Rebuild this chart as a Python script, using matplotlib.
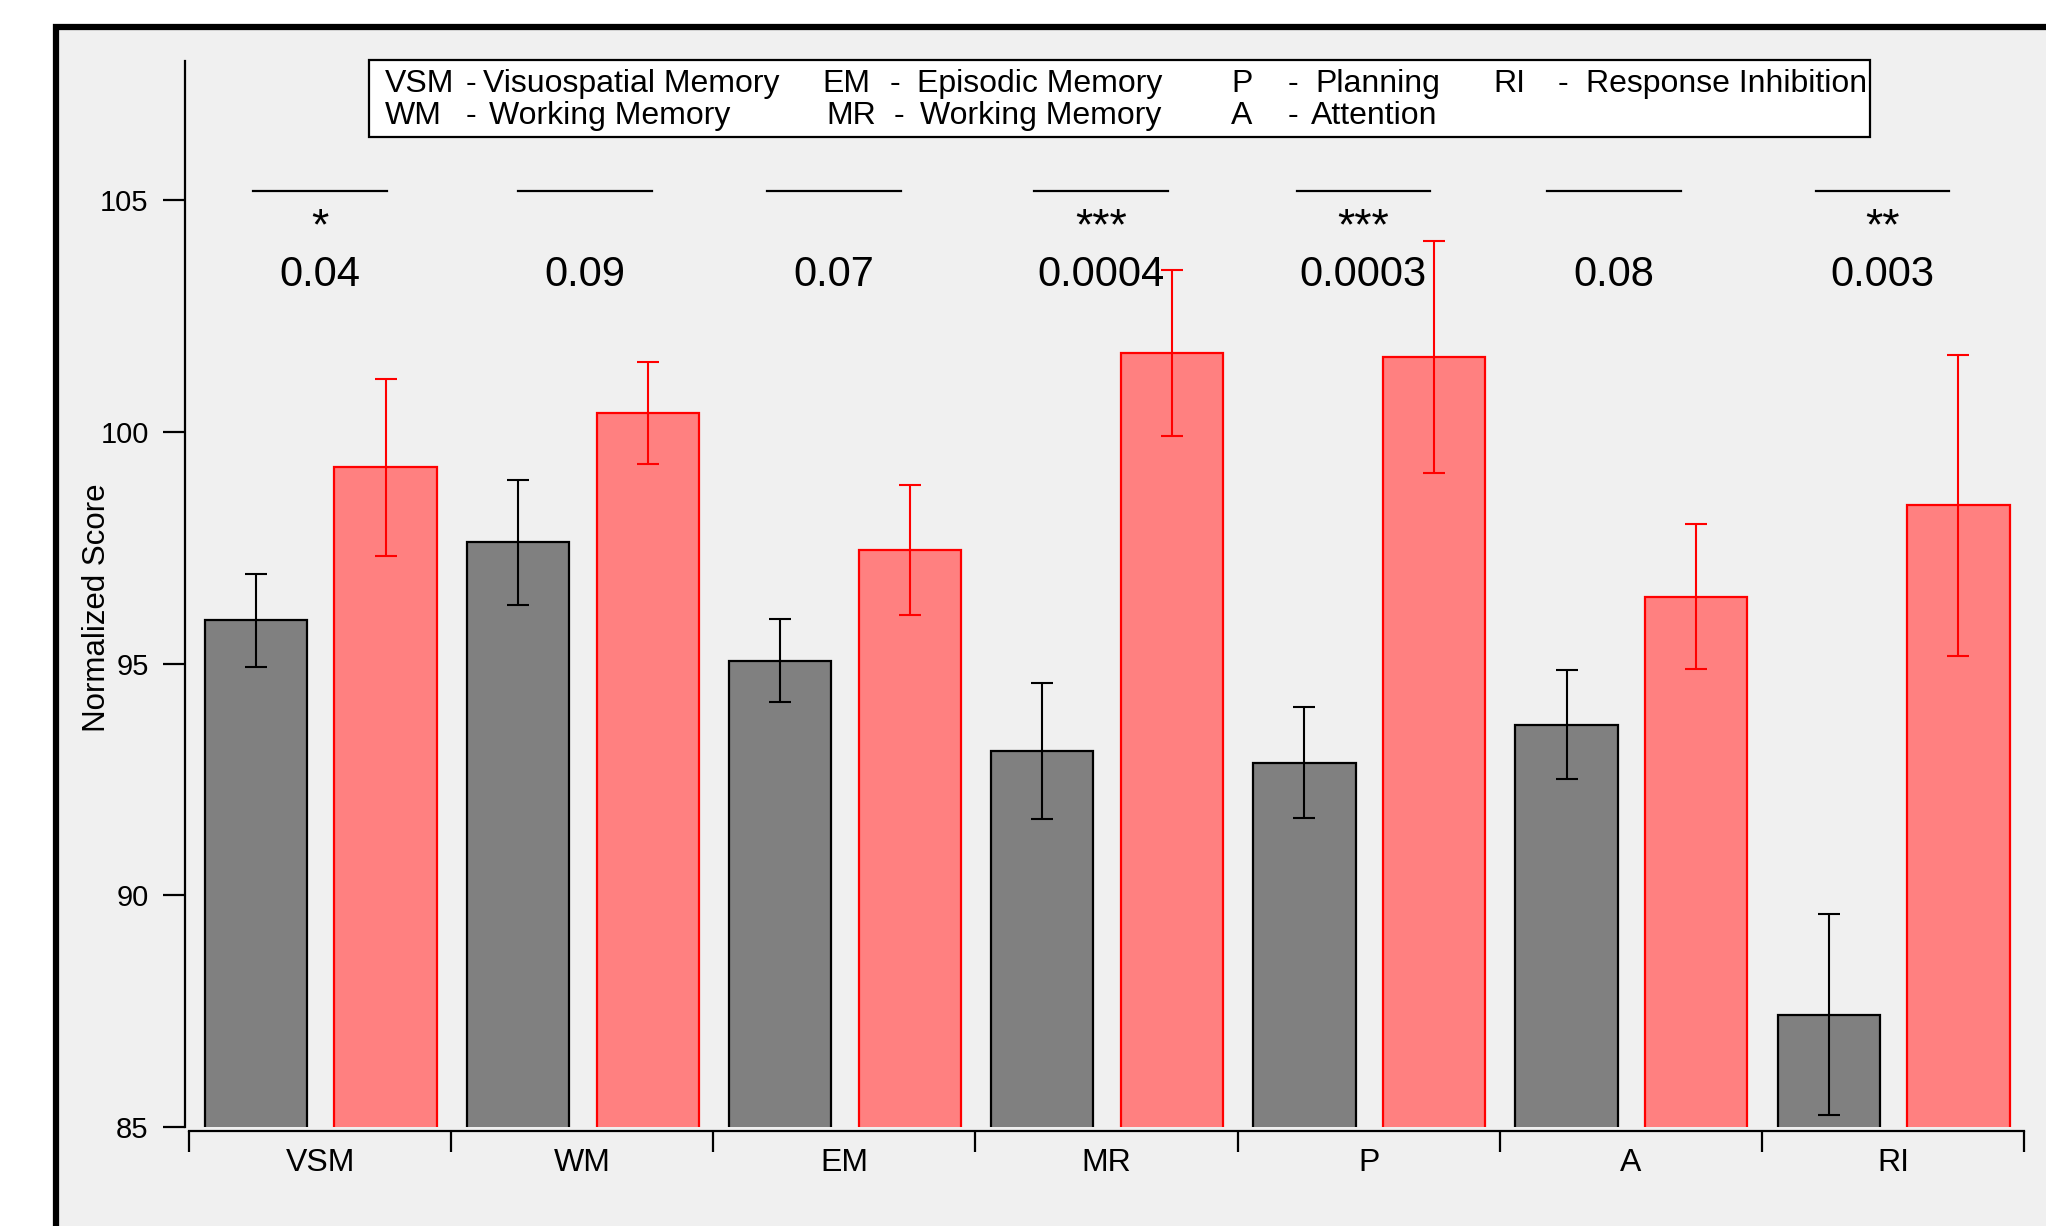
import numpy as np
import matplotlib.pyplot as plt
from matplotlib.patches import Rectangle

plt.rcParams['font.family'] = ['Liberation Sans', 'DejaVu Sans']

# group means and error bars
categories = ['VSM', 'WM', 'EM', 'MR', 'P', 'A', 'RI']
control = [95.93, 97.62, 95.06, 93.11, 92.86, 93.68, 87.42]
control_err = [1.0, 1.35, 0.9, 1.47, 1.2, 1.17, 2.17]
patient = [99.23, 100.41, 97.45, 101.70, 101.62, 96.44, 98.41]
patient_err = [1.9, 1.1, 1.4, 1.8, 2.5, 1.56, 3.25]
p_values = ['0.04', '0.09', '0.07', '0.0004', '0.0003', '0.08', '0.003']
stars = ['*', '', '', '***', '***', '', '**']

legend_abbr = [['VSM', 'EM', 'P', 'RI'], ['WM', 'MR', 'A']]
legend_names = [['Visuospatial Memory', 'Episodic Memory', 'Planning', 'Response Inhibition'],
                ['Working Memory', 'Working Memory', 'Attention']]

W, H = 2046, 1226
fig = plt.figure(figsize=(W / 100, H / 100), dpi=100)
fig.patch.set_facecolor('white')


def px(x, y):
    # pixel position (from top left) -> figure fraction
    return x / W, 1 - y / H


# framed grey panel
fig.add_artist(Rectangle((56 / W, -0.5), 2, 1 - 27 / H + 0.5, transform=fig.transFigure,
                         facecolor='#f0f0f0', edgecolor='black', lw=4.5, zorder=-1))

ax = fig.add_axes([189 / W, 99 / H, 1835 / W, 1066 / H])
ax.patch.set_visible(False)

xc = np.arange(len(categories)) + 0.5
w = 0.39
ax.bar(xc - 0.245, control, width=w, color='#808080', edgecolor='black', lw=1.6, zorder=2)
ax.bar(xc + 0.25, patient, width=w, color='#ff8080', edgecolor='red', lw=1.6, zorder=2)
ax.errorbar(xc - 0.245, control, yerr=control_err, fmt='none', ecolor='black',
            elinewidth=1.5, capsize=8, capthick=1.5, zorder=3)
ax.errorbar(xc + 0.25, patient, yerr=patient_err, fmt='none', ecolor='red',
            elinewidth=1.5, capsize=8, capthick=1.5, zorder=3)

ax.set_xlim(0, len(categories))
ax.set_ylim(85, 108)

for s in ['top', 'right']:
    ax.spines[s].set_visible(False)
ax.spines['left'].set_position(('outward', 3))
ax.spines['bottom'].set_position(('outward', 3))
ax.spines['left'].set_linewidth(1.6)
ax.spines['bottom'].set_linewidth(1.6)

ax.set_yticks([85, 90, 95, 100, 105])
ax.tick_params(axis='y', direction='out', length=16, width=1.6, labelsize=21, pad=10)
ax.set_xticks(np.arange(len(categories) + 1))
ax.set_xticklabels([])
ax.set_xticks(xc, minor=True)
ax.set_xticklabels(categories, minor=True)
ax.tick_params(axis='x', which='major', direction='out', length=15, width=1.6)
ax.tick_params(axis='x', which='minor', length=0, labelsize=23, pad=12)

ax.set_ylabel('Normalized Score', fontsize=22.5, va='center')
ax.yaxis.set_label_coords(-0.0501, 0.487)

# significance annotations
annot_dx = [0.0, 0.01, -0.04, -0.02, -0.02, -0.065, -0.04]
for i in range(len(categories)):
    c = xc[i] + annot_dx[i]
    ax.plot([c - 0.255, c + 0.255], [105.2, 105.2], color='black', lw=1.6, clip_on=False)
    if stars[i]:
        ax.text(c, 104.16, stars[i], ha='center', va='baseline', fontsize=32)
    ax.text(c, 103.14, p_values[i], ha='center', va='baseline', fontsize=30)

# abbreviation key box
x0, y0 = px(369, 137)
x1, y1 = px(1870, 60)
fig.add_artist(Rectangle((x0, y0), x1 - x0, y1 - y0, transform=fig.transFigure,
                         facecolor='white', edgecolor='black', lw=1.6, zorder=1))
row_y = [92, 124]
col_abbr = [[385, 822, 1231, 1493], [385, 826, 1231]]
col_dash = [[466, 890, 1288, 1558], [466, 894, 1288]]
col_name = [[483, 917, 1315, 1586], [489, 920, 1311]]
for r in range(2):
    for j in range(len(legend_abbr[r])):
        fig.text(*px(col_abbr[r][j], row_y[r]), legend_abbr[r][j], fontsize=23, va='baseline')
        fig.text(*px(col_dash[r][j], row_y[r]), '-', fontsize=23, va='baseline')
        fig.text(*px(col_name[r][j], row_y[r]), legend_names[r][j], fontsize=23, va='baseline')

fig.savefig('out.png', dpi=100, facecolor='white')
